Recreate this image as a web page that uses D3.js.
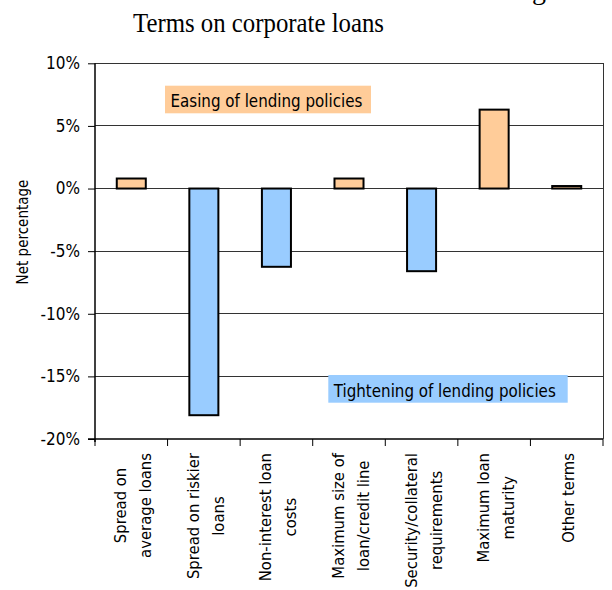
<!DOCTYPE html>
<html>
<head>
<meta charset="utf-8">
<script src="https://cdn.jsdelivr.net/npm/d3@7"></script>
<style>
  html, body { margin: 0; padding: 0; background: #fff; }
  svg { display: block; }
  .sans { font-family: "DejaVu Sans Condensed", "DejaVu Sans", sans-serif; font-stretch: condensed; }
</style>
</head>
<body>
<svg id="chart" width="612" height="590"></svg>
<script>
// Terms on corporate loans: net percentage of banks easing (+) or tightening (-)
const categories = [
  ["Spread on", "average loans"],
  ["Spread on riskier", "loans"],
  ["Non-interest loan", "costs"],
  ["Maximum size of", "loan/credit line"],
  ["Security/collateral", "requirements"],
  ["Maximum loan", "maturity"],
  ["Other terms"]
];
const netPercent = [0.8, -18.1, -6.25, 0.8, -6.6, 6.3, 0.2];
const yTicks = [10, 5, 0, -5, -10, -15, -20];
const titleText = "Terms on corporate loans";
const yLabel = "Net percentage";
const easingLabel = "Easing of lending policies";
const tighteningLabel = "Tightening of lending policies";

const easeColor = "#FFCC99";
const tightColor = "#99CCFF";

const svg = d3.select("#chart");
const plot = { left: 95, right: 603, top: 63.3, bottom: 439 };

const x = d3.scaleBand()
  .domain(d3.range(categories.length))
  .range([plot.left, plot.right])
  .paddingInner(0).paddingOuter(0);

const y = d3.scaleLinear()
  .domain([-20, 10])
  .range([plot.bottom, plot.top]);

// Fragment of the preceding heading line, cut off at the top edge
svg.append("text")
  .attr("x", 532).attr("y", -1)
  .attr("font-family", "Liberation Serif, Times New Roman, serif")
  .attr("font-size", 28)
  .attr("fill", "#000")
  .text("g");

// Title
svg.append("text")
  .attr("x", 133).attr("y", 32)
  .attr("font-family", "Liberation Serif, Times New Roman, serif")
  .attr("font-size", 28)
  .attr("textLength", 251)
  .attr("lengthAdjust", "spacingAndGlyphs")
  .attr("fill", "#000")
  .text(titleText);

// Horizontal grid lines (including the top frame at 10%)
svg.append("g")
  .selectAll("line")
  .data(yTicks.filter(d => d !== -20))
  .join("line")
  .attr("x1", plot.left).attr("x2", plot.right)
  .attr("y1", d => y(d)).attr("y2", d => y(d))
  .attr("stroke", "#333").attr("stroke-width", 1)
  .attr("shape-rendering", "crispEdges");

// Right frame
svg.append("line")
  .attr("x1", plot.right).attr("x2", plot.right)
  .attr("y1", plot.top).attr("y2", plot.bottom)
  .attr("stroke", "#333").attr("stroke-width", 1)
  .attr("shape-rendering", "crispEdges");

// Bars
svg.append("g")
  .selectAll("rect")
  .data(netPercent)
  .join("rect")
  .attr("x", (d, i) => x(i) + x.bandwidth() * 0.3)
  .attr("width", x.bandwidth() * 0.4)
  .attr("y", d => y(Math.max(0, d)))
  .attr("height", d => Math.abs(y(d) - y(0)))
  .attr("fill", d => d >= 0 ? easeColor : tightColor)
  .attr("stroke", "#000")
  .attr("stroke-width", 2);

// Y axis
const yAxis = d3.axisLeft(y)
  .tickValues(yTicks)
  .tickFormat(d => d + "%")
  .tickSize(7)
  .tickPadding(8);
const gy = svg.append("g")
  .attr("transform", `translate(${plot.left},0)`)
  .call(yAxis);
gy.select(".domain").remove();
gy.append("line")
  .attr("x1", 0).attr("x2", 0)
  .attr("y1", plot.top).attr("y2", plot.bottom + 3)
  .attr("stroke", "#000").attr("stroke-width", 1.5);
gy.selectAll(".tick line").attr("stroke", "#000");
gy.selectAll(".tick text")
  .attr("class", "sans")
  .attr("font-size", 17)
  .attr("fill", "#000");

// X axis: ticks at category boundaries
const gx = svg.append("g");
gx.append("line")
  .attr("x1", plot.left - 7).attr("x2", plot.right)
  .attr("y1", plot.bottom).attr("y2", plot.bottom)
  .attr("stroke", "#000").attr("stroke-width", 1.5);
gx.selectAll("line.bound")
  .data(d3.range(categories.length + 1))
  .join("line")
  .attr("class", "bound")
  .attr("x1", i => i < categories.length ? x(i) : plot.right)
  .attr("x2", i => i < categories.length ? x(i) : plot.right)
  .attr("y1", plot.bottom).attr("y2", plot.bottom + 7)
  .attr("stroke", "#000").attr("stroke-width", 1);

// Category labels: rotated blocks hanging from the axis, lines centred in each block
const lineGap = 25;
const labelTop = plot.bottom + 14;
const labels = gx.selectAll("g.cat")
  .data(categories)
  .join("g")
  .attr("class", "cat");
labels.each(function(lines, i) {
  const g = d3.select(this);
  const cx = x(i) + x.bandwidth() / 2;
  const shift = (lines.length - 1) * lineGap / 2;
  const t = g.append("text")
    .attr("class", "sans")
    .attr("font-size", 16.5)
    .attr("fill", "#000")
    .attr("text-anchor", "middle");
  const spans = t.selectAll("tspan")
    .data(lines)
    .join("tspan")
    .attr("x", 0)
    .attr("dy", (d, j) => j === 0 ? 0 : lineGap)
    .text(d => d);
  const maxLen = d3.max(spans.nodes(), n => n.getComputedTextLength());
  t.attr("transform",
    `translate(${cx - shift + 7.5},${labelTop + maxLen / 2}) rotate(-90)`);
});

// Y axis title
svg.append("text")
  .attr("class", "sans")
  .attr("transform", `translate(28,232) rotate(-90)`)
  .attr("text-anchor", "middle")
  .attr("font-size", 15)
  .attr("fill", "#000")
  .text(yLabel);

// Annotation boxes
function noteBox(x0, y0, w, h, color, label) {
  svg.append("rect")
    .attr("x", x0).attr("y", y0).attr("width", w).attr("height", h)
    .attr("fill", color);
  svg.append("text")
    .attr("class", "sans")
    .attr("x", x0 + 5.5).attr("y", y0 + h - 6)
    .attr("font-size", 16.8)
    .attr("fill", "#000")
    .text(label);
}
noteBox(165, 85.7, 206, 27.6, easeColor, easingLabel);
noteBox(328.3, 375, 239.4, 27.7, tightColor, tighteningLabel);
</script>
</body>
</html>
